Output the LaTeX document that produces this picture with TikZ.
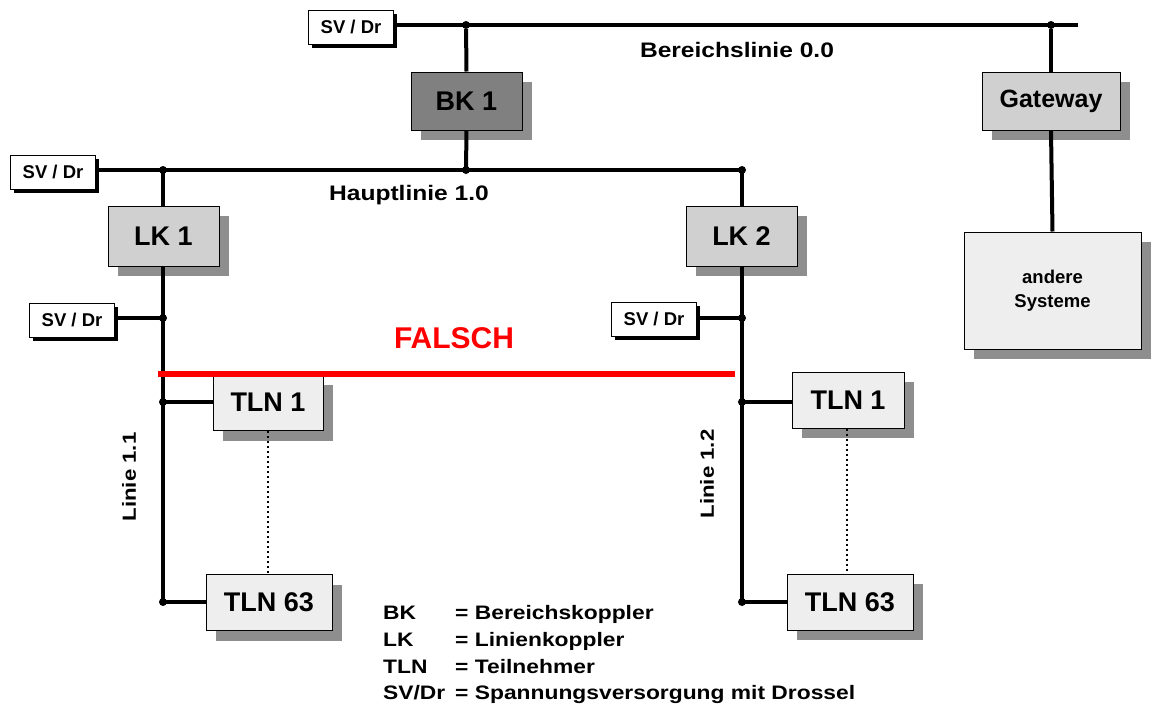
\documentclass[tikz,border=0pt]{standalone}
\usepackage{fontspec}
\setmainfont{Liberation Sans}
\newfontfamily\stretchfont[FakeStretch=1.17]{Liberation Sans}
\usetikzlibrary{shadows}
\definecolor{bkfill}{HTML}{808080}
\definecolor{lkfill}{HTML}{D0D0D0}
\definecolor{tlnfill}{HTML}{EEEEEE}
\definecolor{shadowgray}{HTML}{8E8E8E}
\definecolor{falschred}{HTML}{FF0000}
\tikzset{
  unitbox/.style={draw=black, line width=1pt, inner sep=0pt, align=center,
    general shadow={fill=shadowgray, shadow xshift=10pt, shadow yshift=-10pt}},
  bkbox/.style={unitbox, fill=bkfill, minimum width=111pt, minimum height=58pt,
    font=\fontsize{27}{30}\selectfont\bfseries},
  lkbox/.style={unitbox, fill=lkfill, minimum width=111pt, minimum height=60pt,
    font=\fontsize{27}{30}\selectfont\bfseries},
  gwbox/.style={unitbox, fill=lkfill, minimum width=138pt, minimum height=58pt,
    font=\fontsize{25}{28}\selectfont\bfseries},
  tlnbox/.style={unitbox, fill=tlnfill, minimum height=56pt,
    font=\fontsize{27}{30}\selectfont\bfseries},
  sysbox/.style={unitbox, fill=tlnfill, minimum width=177pt, minimum height=117pt,
    font=\fontsize{18.5}{24}\selectfont\bfseries},
  svbox/.style={draw=black, line width=1pt, fill=white, inner sep=0pt,
    minimum width=85pt, minimum height=34pt,
    font=\fontsize{18.5}{20}\selectfont\bfseries,
    general shadow={fill=black, shadow xshift=3.5pt, shadow yshift=-3.5pt}},
  bus/.style={line width=4pt},
  stub/.style={line width=3.2pt},
  jdot/.style={circle, fill=black, inner sep=0pt, minimum size=8pt},
  buslabel/.style={font=\stretchfont\fontsize{21}{24}\selectfont\bfseries, inner sep=0pt},
  linelabel/.style={font=\stretchfont\fontsize{19}{22}\selectfont\bfseries, inner sep=0pt, rotate=90},
  legendtext/.style={font=\stretchfont\fontsize{19.5}{22}\selectfont\bfseries, inner sep=0pt, anchor=base west},
  dotline/.style={line width=2pt, dash pattern=on 2pt off 3pt},
}
\begin{document}
\begin{tikzpicture}[x=1pt,y=-1pt]
\useasboundingbox (0,0) rectangle (1152,704);

% Bereichslinie
\node[svbox] (sv1) at (351,27) {SV / Dr};
\coordinate (bend) at (1078,25);
\node[jdot] (j1) at (466,25) {};
\node[jdot] (j2) at (1051,25) {};
\draw[bus] (sv1.east |- bend) -- (bend);
\node[buslabel] (lblB) at (737,50) {Bereichslinie 0.0};

% BK 1 and Gateway
\node[bkbox] (bk) at (466.5,101) {BK 1};
\node[gwbox] (gw) at (1051,101) {Gateway};
\node[sysbox] (sys) at (1052.5,290.5) {andere\\Systeme};
\draw[bus] (j1) -- (bk.north);
\draw[bus] (j2) -- (gw.north);
\draw[bus] (gw.south) -- (sys.north);

% Hauptlinie
\node[svbox] (sv2) at (53,172) {SV / Dr};
\node[jdot] (h1) at (163,170) {};
\node[jdot] (h2) at (466,170) {};
\node[jdot] (h3) at (742,170) {};
\draw[bus] (sv2.east |- h1) -- (h3.center);
\draw[bus] (bk.south) -- (h2.center);
\node[buslabel] (lblH) at (409,195) {Hauptlinie 1.0};

% LK boxes
\node[lkbox] (lk1) at (163.5,236) {LK 1};
\node[lkbox] (lk2) at (741.5,236) {LK 2};
\draw[bus] (h1.center) -- (lk1.north -| h1);
\draw[bus] (h3.center) -- (lk2.north -| h3);

% Linie 1.1
\node[jdot] (a1) at (163,318) {};
\node[jdot] (a2) at (163,402) {};
\node[jdot] (a3) at (163,602) {};
\draw[bus] (lk1.south -| a1) -- (a3.center);
\node[svbox] (sv3) at (72,320) {SV / Dr};
\draw[stub] (sv3.east |- a1) -- (a1.center);
\node[tlnbox, minimum width=110pt] (t1a) at (268,402.5) {TLN 1};
\node[tlnbox, minimum width=126pt] (t63a) at (269,602.5) {TLN 63};
\draw[bus] (a2.center) -- (t1a.west |- a2);
\draw[bus] (a3.center) -- (t63a.west |- a3);
\draw[dotline] (t1a.south -| 268,0) -- (t63a.north -| 268,0);
\node[linelabel] (lbl11) at (129,477) {Linie 1.1};

% Linie 1.2
\node[jdot] (b1) at (742,318) {};
\node[jdot] (b2) at (742,402) {};
\node[jdot] (b3) at (742,602) {};
\draw[bus] (lk2.south -| b1) -- (b3.center);
\node[svbox] (sv4) at (654,319) {SV / Dr};
\draw[stub] (sv4.east |- b1) -- (b1.center);
\node[tlnbox, minimum width=112pt] (t1b) at (848,400) {TLN 1};
\node[tlnbox, minimum width=126pt] (t63b) at (850,602) {TLN 63};
\draw[bus] (b2.center) -- (t1b.west |- b2);
\draw[bus] (b3.center) -- (t63b.west |- b3);
\draw[dotline] (t1b.south -| 847,0) -- (t63b.north -| 847,0);
\node[linelabel] (lbl12) at (707,474) {Linie 1.2};

% FALSCH
\coordinate (rl) at (158,374);
\coordinate (rr) at (735,374);
\draw[falschred, line width=5.5pt] (rl) -- (rr);
\node[font=\fontsize{30}{32}\selectfont\bfseries, text=falschred, inner sep=0pt] (falsch) at (454,338) {FALSCH};

% Legend
\node[legendtext] (k1) at (383,619) {BK};
\node[legendtext] (v1) at (455,619) {= Bereichskoppler};
\node[legendtext] (k2) at (383,646) {LK};
\node[legendtext] (v2) at (455,646) {= Linienkoppler};
\node[legendtext] (k3) at (383,673) {TLN};
\node[legendtext] (v3) at (455,673) {= Teilnehmer};
\node[legendtext] (k4) at (383,699) {SV/Dr};
\node[legendtext] (v4) at (455,699) {= Spannungsversorgung mit Drossel};
\end{tikzpicture}
\end{document}
